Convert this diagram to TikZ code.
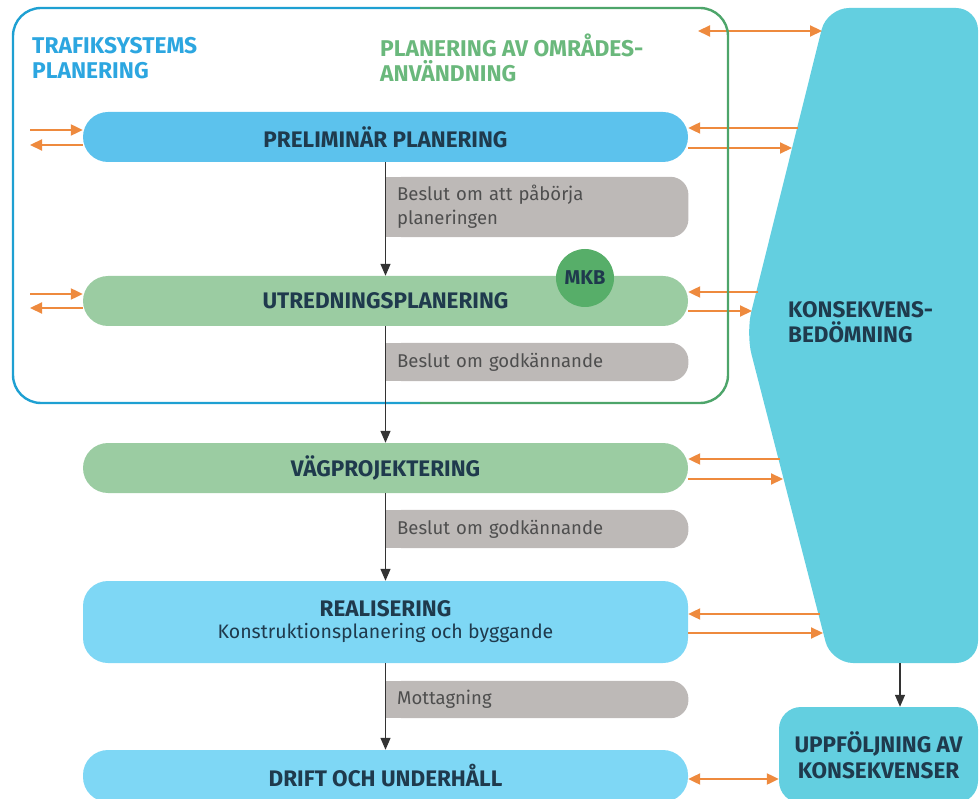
\documentclass[tikz,border=0pt]{standalone}
\usepackage{fontspec}
\setmainfont{Fira Sans}
\usetikzlibrary{arrows.meta}
\pgfdeclarelayer{background}
\pgfsetlayers{background,main}
\definecolor{navy}{HTML}{1F3A4D}
\definecolor{pblue}{HTML}{5CC2ED}
\definecolor{lblue}{HTML}{7ED7F5}
\definecolor{sgreen}{HTML}{9BCCA2}
\definecolor{mkbgreen}{HTML}{57AE69}
\definecolor{dgrey}{HTML}{BDB9B7}
\definecolor{dtext}{HTML}{4E4E4E}
\definecolor{kbcol}{HTML}{63CFE0}
\definecolor{linkc}{HTML}{EE8A3E}
\definecolor{flowc}{HTML}{333333}
\definecolor{bluefr}{HTML}{1EA0D2}
\definecolor{greenfr}{HTML}{4DA56A}
\definecolor{tblue}{HTML}{2CA6E0}
\definecolor{tgreen}{HTML}{6AB87C}
\tikzset{
  stage/.style={rectangle,rounded corners=25pt,minimum width=605pt,minimum height=50pt,
    inner sep=0pt,text=navy,font=\bfseries\fontsize{22.5}{26}\selectfont,align=center},
  decision/.style={rectangle,minimum width=303pt,
    text width=279pt,inner xsep=12pt,inner ysep=0pt,align=left,anchor=west,text=dtext,
    font=\fontsize{18.5}{24}\selectfont},
  flow/.style={draw=flowc,line width=1.3pt,-{Triangle[length=12pt,width=10pt]}},
  link/.style={draw=linkc,line width=2.2pt,-{Triangle[length=12pt,width=11pt]}},
  twolink/.style={link,{Triangle[length=12pt,width=11pt]}-{Triangle[length=12pt,width=11pt]}},
  frametitle/.style={anchor=north west,inner sep=0pt,align=left,
    font=\bfseries\fontsize{22.8}{25}\selectfont},
}
\begin{document}
\begin{tikzpicture}[x=1pt,y=-1pt]
\useasboundingbox (0,0) rectangle (980,799);
% konsekvensbedomning
\fill[kbcol,rounded corners=22pt] (827,8) -- (978,8) -- (978,663) -- (831,663) -- (746,333) -- cycle;
\node[anchor=west,inner sep=0pt,align=left,text=navy,font=\bfseries\fontsize{22.5}{25}\selectfont] (kb) at (788,322) {KONSEKVENS-\\BEDÖMNING};
\node[rectangle,rounded corners=22pt,fill=kbcol,minimum width=199pt,minimum height=96pt,inner sep=0pt,
  text=navy,align=center,font=\bfseries\fontsize{22.5}{26}\selectfont] (uf) at (878.5,755) {UPPFÖLJNING AV\\KONSEKVENSER};
% stages
\node[stage,fill=pblue] (pp) at (385.5,137) {PRELIMINÄR PLANERING};
\node[stage,fill=sgreen] (up) at (385.5,301) {UTREDNINGSPLANERING};
\node[stage,fill=sgreen] (vp) at (385.5,468) {VÄGPROJEKTERING};
\node[stage,fill=lblue,minimum height=82pt] (re) at (385.5,622) {REALISERING\\[-4pt]{\mdseries\fontsize{19.5}{22}\selectfont Konstruktionsplanering och byggande}};
\node[stage,fill=lblue,minimum height=52pt] (du) at (385.5,776) {DRIFT OCH UNDERHÅLL};
\node[circle,fill=mkbgreen,minimum size=58pt,inner sep=0pt,text=navy,font=\bfseries\fontsize{20}{22}\selectfont] (mkb) at (585,278) {MKB};
% decisions
\node[decision,minimum height=60pt] (g1) at (385,207) {Beslut om att påbörja\\planeringen};
\node[decision,minimum height=38pt] (g2) at (385,362) {Beslut om godkännande};
\node[decision,minimum height=38pt] (g3) at (385,529) {Beslut om godkännande};
\node[decision,minimum height=37pt] (g4) at (385,699.5) {Mottagning};
\begin{pgfonlayer}{background}
\foreach \g in {g1,g2,g3,g4}{
  \fill[dgrey,rounded corners=18pt] (\g.north west) rectangle (\g.south east);
  \fill[dgrey] (\g.north west) rectangle ([xshift=20pt]\g.south west);
}
\end{pgfonlayer}
% orange links
\coordinate (kbtop) at (822,31);
\coordinate (frtop) at (698,31);
\coordinate (pp-in) at (798,128);
\coordinate (pp-out) at (792,148);
\coordinate (up-in) at (758,292);
\coordinate (up-out) at (752,311);
\coordinate (vp-in) at (780,459);
\coordinate (vp-out) at (783,479);
\coordinate (re-in) at (820,614);
\coordinate (re-out) at (823,633);
\coordinate (pp-l1) at (30,130);
\coordinate (pp-l2) at (30,145);
\coordinate (up-l1) at (30,294);
\coordinate (up-l2) at (30,308);
\draw[twolink] (frtop) -- (kbtop);
\foreach \s in {pp,up,vp,re}{
  \draw[link] (\s-in) -- (\s-in -| \s.east);
  \draw[link] (\s.east |- \s-out) -- (\s-out);
}
\foreach \s in {pp,up}{
  \draw[link] (\s-l1) -- (\s-l1 -| \s.west);
  \draw[link] (\s.west |- \s-l2) -- (\s-l2);
}
\draw[twolink] ([yshift=-3pt]du.east) -- ([yshift=-3pt]du.east -| uf.west);
% frames
\draw[bluefr,line width=2.4pt,rounded corners=28pt] (420,8) -| (13,403) -- (420,403);
\draw[greenfr,line width=2.4pt,rounded corners=28pt] (420,8) -| (728,403) -- (420,403);
\node[frametitle,text=tblue] (tsp) at (32,37) {TRAFIKSYSTEMS\\PLANERING};
\node[frametitle,text=tgreen] (poa) at (380,33.5) {PLANERING AV OMRÅDES-\\ANVÄNDNING};
% flow
\draw[flow] (pp) -- (up);
\draw[flow] (up) -- (vp);
\draw[flow] (vp) -- (re);
\draw[flow] (re) -- (du);
\coordinate (kbbot) at (900,663);
\draw[flow] (kbbot) -- (kbbot |- uf.north);
\end{tikzpicture}
\end{document}
